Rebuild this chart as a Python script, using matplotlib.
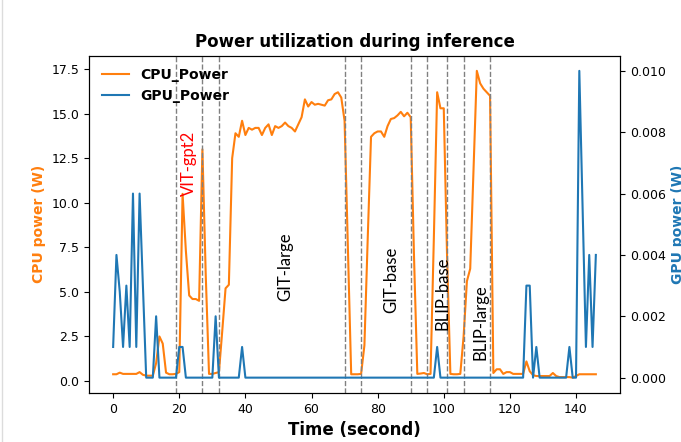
import matplotlib
matplotlib.use("Agg")
import matplotlib.pyplot as plt
from matplotlib.lines import Line2D

# ---------------- data ----------------
time_s = list(range(147))

cpu_power = [
    0.38, 0.38, 0.47, 0.40, 0.40, 0.40, 0.40, 0.40, 0.50, 0.35,
    0.30, 0.30, 0.30, 1.00, 2.50, 2.10, 0.47, 0.38, 0.38, 0.40,
    0.50, 10.5, 7.3, 4.8, 4.6, 4.6, 4.5, 13.0, 6.0, 0.40,
    0.40, 0.45, 0.50, 2.8, 5.2, 5.4, 12.5, 13.9, 13.7, 14.6,
    13.8, 14.2, 14.1, 14.2, 14.2, 13.8, 14.2, 14.4, 13.8, 14.3,
    14.2, 14.3, 14.5, 14.3, 14.2, 14.0, 14.4, 14.8, 15.8, 15.4,
    15.65, 15.5, 15.55, 15.5, 15.45, 15.75, 15.8, 16.1, 16.2, 15.9,
    14.6, 7.5, 0.38, 0.38, 0.38, 0.40, 2.0, 8.0, 13.7, 13.9,
    14.0, 14.0, 13.7, 14.3, 14.7, 14.75, 14.9, 15.1, 14.85, 15.05,
    14.8, 7.0, 0.40, 0.42, 0.45, 0.38, 0.40, 8.0, 16.2, 15.3,
    15.3, 7.0, 0.40, 0.38, 0.38, 0.40, 2.5, 5.6, 6.3, 11.8,
    17.4, 16.7, 16.4, 16.2, 16.0, 0.45, 0.66, 0.66, 0.40, 0.50,
    0.50, 0.40, 0.40, 0.40, 0.40, 1.10, 0.55, 0.33, 0.28, 0.28,
    0.28, 0.28, 0.28, 0.45, 0.28, 0.22, 0.22, 0.22, 0.22, 0.19,
    0.28, 0.38, 0.38, 0.38, 0.38, 0.38, 0.38,
]

gpu_power = [
    0.001, 0.004, 0.0028, 0.001, 0.003, 0.001, 0.006, 0.001, 0.006, 0.003,
    0.0, 0.0, 0.0, 0.002, 0.0, 0.0, 0.0, 0.0, 0.0, 0.0,
    0.001, 0.001, 0.0, 0.0, 0.0, 0.0, 0.0, 0.0, 0.0, 0.0,
    0.0, 0.002, 0.0, 0.0, 0.0, 0.0, 0.0, 0.0, 0.0, 0.001,
    0.0, 0.0, 0.0, 0.0, 0.0, 0.0, 0.0, 0.0, 0.0, 0.0,
    0.0, 0.0, 0.0, 0.0, 0.0, 0.0, 0.0, 0.0, 0.0, 0.0,
    0.0, 0.0, 0.0, 0.0, 0.0, 0.0, 0.0, 0.0, 0.0, 0.0,
    0.0, 0.0, 0.0, 0.0, 0.0, 0.0, 0.0, 0.0, 0.0, 0.0,
    0.0, 0.0, 0.0, 0.0, 0.0, 0.0, 0.0, 0.0, 0.0, 0.0,
    0.0, 0.0, 0.0, 0.0, 0.0, 0.0, 0.0, 0.0, 0.001, 0.0,
    0.0, 0.0, 0.0, 0.0, 0.0, 0.0, 0.0, 0.0, 0.0, 0.0,
    0.0, 0.0, 0.0, 0.0, 0.0, 0.0, 0.0, 0.0, 0.0, 0.0,
    0.0, 0.0, 0.0, 0.0, 0.0, 0.003, 0.003, 0.0, 0.001, 0.0,
    0.0, 0.0, 0.0, 0.0, 0.0, 0.0, 0.0, 0.0, 0.001, 0.0,
    0.0, 0.010, 0.0055, 0.001, 0.004, 0.001, 0.004,
]

segment_bounds = [19, 27, 32, 70, 75, 90, 95, 101, 106, 114]

model_labels = ["VIT-gpt2", "GIT-large", "GIT-base", "BLIP-base", "BLIP-large"]
label_t = [23.0, 52.0, 84.0, 99.6, 111.1]
label_cpu = [12.2, 6.43, 5.67, 4.92, 3.33]
label_colors = ["red", "black", "black", "black", "black"]

# ---------------- plot ----------------
orange = "#ff7f0e"
blue = "#1f77b4"

fig = plt.figure(figsize=(6.81, 4.42), dpi=100)
ax1 = fig.add_axes([0.1307, 0.1109, 0.7797, 0.7635])
ax2 = ax1.twinx()

l1, = ax1.plot(time_s, cpu_power, color=orange, lw=1.5, label="CPU_Power")
l2, = ax2.plot(time_s, gpu_power, color=blue, lw=1.5, label="GPU_Power")

for b in segment_bounds:
    ax1.axvline(b, color="gray", linestyle="--", lw=1.0)

for name, tx, ty, c in zip(model_labels, label_t, label_cpu, label_colors):
    ax1.text(tx, ty, name, rotation=90, ha="center", va="center",
             color=c, fontsize=12, family=["Lato", "DejaVu Sans"])

ax1.set_xticks([0, 20, 40, 60, 80, 100, 120, 140])
ax1.set_yticks([0.0, 2.5, 5.0, 7.5, 10.0, 12.5, 15.0, 17.5])
ax2.set_yticks([0.000, 0.002, 0.004, 0.006, 0.008, 0.010])
ax1.tick_params(labelsize=9)
ax2.tick_params(labelsize=9)

ax1.set_xlabel("Time (second)", fontsize=12, fontweight="bold")
ax1.set_ylabel("CPU power (W)", fontsize=10, fontweight="bold", color=orange)
ax2.set_ylabel("GPU power (W)", fontsize=10, fontweight="bold", color=blue)
ax1.set_title("Power utilization during inference", fontsize=12, fontweight="bold")

ax1.legend(handles=[l1, l2], loc="upper left", frameon=False,
           prop={"weight": "bold", "size": 10})

fig.add_artist(Line2D([0.003, 0.003], [0, 1], color="#dcdcdc", lw=1,
                      transform=fig.transFigure))

fig.savefig("out.png", dpi=100)
